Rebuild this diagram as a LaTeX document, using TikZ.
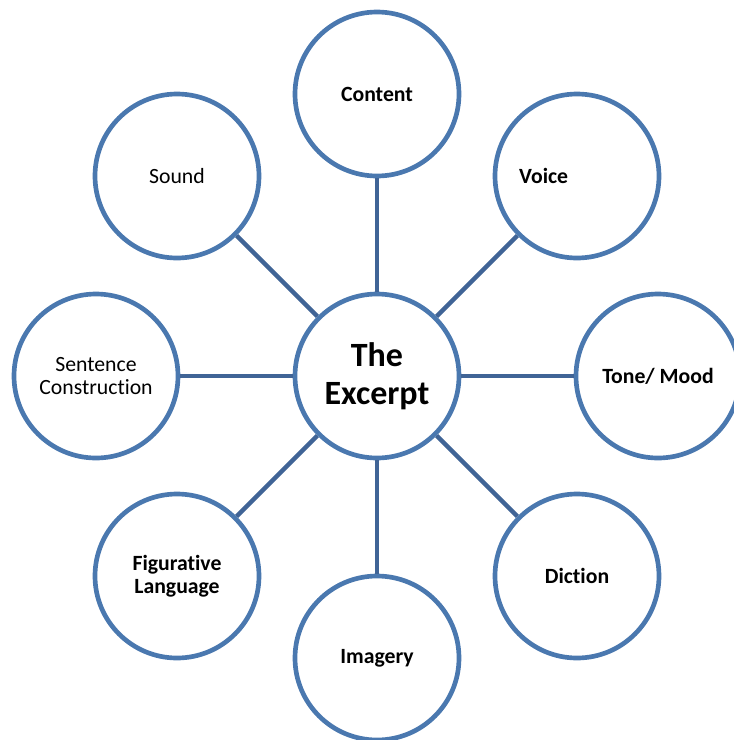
\documentclass[tikz,border=0pt]{standalone}
\usepackage{fontspec}
\setmainfont[Ligatures=NoCommon]{Carlito}
\usepackage{tikz}

\definecolor{ringblue}{RGB}{74,120,175}
\definecolor{linkblue}{RGB}{64,100,150}

\begin{document}
\begin{tikzpicture}[x=0.75pt,y=-0.75pt]
        \tikzstyle{every node} = [circle, draw=ringblue, line width=3.5pt, fill=white,
            minimum size=123pt, inner sep=0pt, align=center,
            font=\fontsize{16.3pt}{17.3pt}\selectfont]
        \useasboundingbox (0,0) rectangle (734,740);
        \node[font=\fontsize{25.5pt}{28.5pt}\selectfont\bfseries] (hub) at (377,376) {The\\Excerpt};
        \node[font=\fontsize{16.3pt}{17.3pt}\selectfont\bfseries] (content) at (377,94) {Content};
        \node[label={[draw=none, fill=none, minimum size=0pt, xshift=-25pt]center:\bfseries Voice}] (voice) at (577,176) {};
        \node[font=\fontsize{16.3pt}{17.3pt}\selectfont\bfseries] (tone) at (658,376) {Tone/ Mood};
        \node[font=\fontsize{16.3pt}{17.3pt}\selectfont\bfseries] (diction) at (577,576) {Diction};
        \node[font=\fontsize{16.3pt}{17.3pt}\selectfont\bfseries] (imagery) at (377,658) {Imagery};
        \node[font=\fontsize{16.3pt}{17.3pt}\selectfont\bfseries] (figure) at (177,576) {Figurative\\Language};
        \node (sentence) at (96,376) {Sentence\\Construction};
        \node (sound) at (177,176) {Sound};
        \foreach \to in {content, voice, tone, diction, imagery, figure, sentence, sound}
            \draw[linkblue, line width=3.2pt] (hub) -- (\to);
    \end{tikzpicture}
\end{document}
